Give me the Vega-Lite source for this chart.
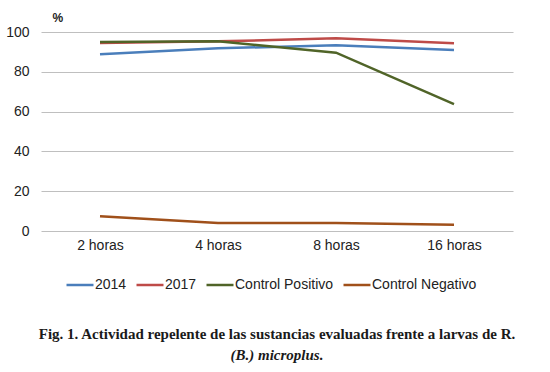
{
  "$schema": "https://vega.github.io/schema/vega-lite/v6.json",
  "autosize": "none",
  "width": 472,
  "height": 199,
  "padding": {"left": 41, "top": 32, "right": 37, "bottom": 141},
  "background": "white",
  "config": {"view": {"stroke": null}},
  "data": {"values": [
    {"t": "2 horas", "s": "2014", "v": 88.8},
    {"t": "4 horas", "s": "2014", "v": 91.8},
    {"t": "8 horas", "s": "2014", "v": 93.3},
    {"t": "16 horas", "s": "2014", "v": 91.0},
    {"t": "2 horas", "s": "2017", "v": 94.5},
    {"t": "4 horas", "s": "2017", "v": 95.3},
    {"t": "8 horas", "s": "2017", "v": 96.8},
    {"t": "16 horas", "s": "2017", "v": 94.3},
    {"t": "2 horas", "s": "Control Positivo", "v": 95.0},
    {"t": "4 horas", "s": "Control Positivo", "v": 95.3},
    {"t": "8 horas", "s": "Control Positivo", "v": 89.6},
    {"t": "16 horas", "s": "Control Positivo", "v": 63.8},
    {"t": "2 horas", "s": "Control Negativo", "v": 7.4},
    {"t": "4 horas", "s": "Control Negativo", "v": 4.0},
    {"t": "8 horas", "s": "Control Negativo", "v": 4.0},
    {"t": "16 horas", "s": "Control Negativo", "v": 3.2}
  ]},
  "title": {
    "text": "Fig. 1. Actividad repelente de las sustancias evaluadas frente a larvas de R.",
    "subtitle": "(B.) microplus.",
    "orient": "bottom",
    "anchor": "middle",
    "offset": 35,
    "font": "Liberation Serif",
    "fontSize": 15,
    "fontWeight": "bold",
    "color": "#1a1a1a",
    "subtitleFont": "Liberation Serif",
    "subtitleFontSize": 15,
    "subtitleFontWeight": "bold",
    "subtitleFontStyle": "italic",
    "subtitleColor": "#1a1a1a",
    "subtitlePadding": 6
  },
  "mark": {"type": "line", "strokeWidth": 2.5},
  "encoding": {
    "x": {
      "field": "t", "type": "ordinal",
      "sort": ["2 horas", "4 horas", "8 horas", "16 horas"],
      "scale": {"paddingInner": 0, "paddingOuter": 0.5},
      "axis": {"title": null, "labelAngle": 0, "domain": false, "ticks": false, "labelFont": "Liberation Sans", "labelFontSize": 14, "labelColor": "#222", "labelPadding": 7, "grid": false}
    },
    "y": {
      "field": "v", "type": "quantitative",
      "scale": {"domain": [0, 100], "nice": false},
      "axis": {"values": [0, 20, 40, 60, 80, 100], "title": "%", "titleAngle": 0, "titleAnchor": "end", "titleAlign": "left", "titleBaseline": "bottom", "titleX": 11, "titleY": -8, "titleFont": "Liberation Sans", "titleFontSize": 12, "titleFontWeight": "bold", "titleColor": "#222", "domain": false, "ticks": false, "labelFont": "Liberation Sans", "labelFontSize": 14, "labelColor": "#222", "labelPadding": 12, "gridColor": "#bfbfbf", "gridWidth": 1}
    },
    "color": {
      "field": "s", "type": "nominal",
      "sort": ["2014", "2017", "Control Positivo", "Control Negativo"],
      "scale": {"domain": ["2014", "2017", "Control Positivo", "Control Negativo"], "range": ["#4A7EBB", "#BE4B48", "#506428", "#A0501A"]},
      "legend": {"title": null, "orient": "none", "legendX": 24, "legendY": 238, "direction": "horizontal", "symbolType": "stroke", "symbolSize": 729, "symbolStrokeWidth": 2.5, "labelFont": "Liberation Sans", "labelFontSize": 14, "labelColor": "#222", "labelOffset": 0, "columnPadding": 4}
    }
  }
}
